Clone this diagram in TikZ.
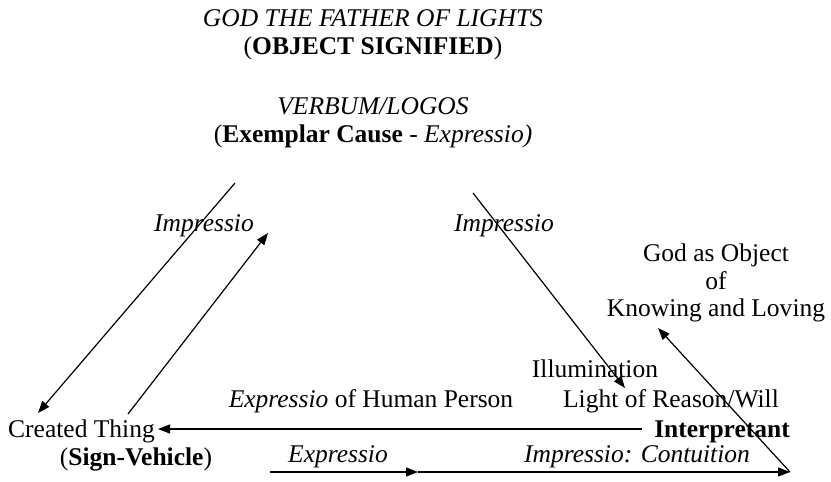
\documentclass[tikz,border=0pt]{standalone}
\usepackage{fontspec}
\setmainfont{Liberation Serif}
\usetikzlibrary{arrows.meta}

\begin{document}
\begin{tikzpicture}[x=1bp, y=-1bp,
  t/.style={anchor=base, inner sep=0pt, font=\fontsize{25.5bp}{28bp}\selectfont},
  ar/.style={-{Triangle[length=12bp,width=9bp]}, line width=1.2bp}]
\useasboundingbox (0,0) rectangle (831,482);
% top block
\node[t] (father) at (373,27) {\textit{GOD THE FATHER OF LIGHTS}};
\node[t] (signified) at (373,55) {(\textbf{OBJECT SIGNIFIED})};
\node[t] (verbum) at (373,115) {\textit{VERBUM/LOGOS}};
\node[t] (exemplar) at (373,143) {(\textbf{Exemplar Cause} - \textit{Expressio)}};
\node[t] (impL) at (204,232) {\textit{Impressio}};
\node[t] (impR) at (504,232) {\textit{Impressio}};
% right side
\node[t] (godobj) at (716,262) {God as Object};
\node[t] (of) at (716,290) {of};
\node[t] (knowing) at (716,317) {Knowing and Loving};
\node[t] (illum) at (595,377) {Illumination};
\node[t] (light) at (671,407) {Light of Reason/Will};
\node[t] (exphum) at (371,407) {\textit{Expressio} of Human Person};
% bottom row
\node[t, anchor=base west] (created) at (8,437) {Created Thing};
\node[t, anchor=base east] (interp) at (790,437) {\textbf{Interpretant}};
\node[t] (vehicle) at (136,465) {(\textbf{Sign-Vehicle})};
\node[t] (expr) at (338,462) {\textit{Expressio}};
\node[t] (contu) at (637,462) {\textit{Impressio: Contuition}};
% end points
\coordinate (l1s) at (235,183); \coordinate (l1e) at (38,413);
\coordinate (l2s) at (128,414); \coordinate (l2e) at (268,233);
\coordinate (r1s) at (473,193); \coordinate (r1e) at (625,388);
\coordinate (apex) at (790,472); \coordinate (r2e) at (658,328);
\coordinate (h1s) at (642,429); \coordinate (h1e) at (158,429);
\coordinate (b1s) at (270,472); \coordinate (bmid) at (418,472);
\draw[ar] (l1s) -- (l1e);
\draw[ar] (l2s) -- (l2e);
\draw[ar] (r1s) -- (r1e);
\draw[ar] (apex) -- (r2e);
\draw[ar] (h1s) -- (h1e);
\draw[ar] (b1s) -- (bmid);
\draw[ar] (bmid) -- (apex);
\end{tikzpicture}
\end{document}
